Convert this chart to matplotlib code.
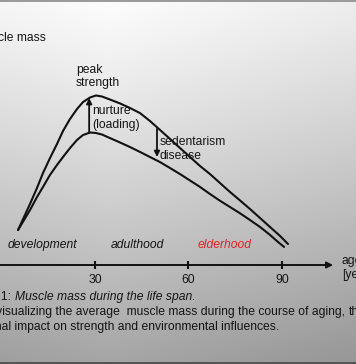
import numpy as np
import matplotlib
matplotlib.use("Agg")
import matplotlib.pyplot as plt
from matplotlib.patches import Rectangle

# ---- data ----
age_upper = [5.24, 7.17, 9.09, 11.34, 13.27, 15.52, 17.77, 19.70, 21.95, 24.20, 26.12,
             28.37, 30.30, 32.23, 34.80, 38.01, 41.23, 44.44, 47.65, 50.87, 54.08,
             57.30, 60.51, 63.72, 66.94, 70.15, 73.37, 76.58, 79.80, 83.01, 86.22,
             89.44, 92.01]
mass_upper = [20.7, 28.4, 36.1, 45.6, 54.4, 63.3, 71.6, 79.3, 86.4, 92.3, 96.4,
              99.1, 100.3, 99.7, 97.9, 95.6, 92.9, 89.9, 85.2, 79.9, 74.6,
              69.2, 63.9, 58.6, 53.8, 48.5, 43.2, 38.2, 33.1, 27.8, 22.5,
              17.2, 12.4]
age_lower = [5.24, 7.17, 9.09, 11.34, 13.27, 15.52, 17.77, 19.70, 21.95, 24.20, 26.12,
             28.37, 30.30, 32.23, 34.80, 38.01, 41.23, 44.44, 47.65, 50.87, 54.08,
             57.30, 60.51, 63.72, 66.94, 70.15, 73.37, 76.58, 79.80, 83.01, 86.22,
             88.80, 90.73]
mass_lower = [20.7, 26.6, 32.5, 40.2, 46.2, 53.3, 59.2, 63.9, 69.2, 74.0, 76.9,
              78.4, 78.1, 77.2, 75.1, 72.5, 69.8, 66.9, 63.9, 60.9, 57.4,
              53.8, 50.0, 46.2, 42.0, 38.0, 34.3, 30.6, 26.6, 22.5, 17.8,
              13.6, 10.7]
tick_ages = [30, 60, 90]
tick_labels = ["30", "60", "90"]
phases = ["development", "adulthood", "elderhood"]
phase_colors = ["#151515", "#151515", "#e8202a"]

W, H = 356, 364
fig = plt.figure(figsize=(W / 100, H / 100), dpi=100)
plt.rcParams['font.family'] = ['Liberation Sans', 'DejaVu Sans']

# background gradient
bg = fig.add_axes([0, 0, 1, 1])
yy, xx = np.mgrid[0:H, 0:W]
v = 253 - 88 * (yy / H) ** 1.1 - 22 * np.abs(xx - 110) / W
v = np.clip(v, 0, 255) / 255.0
bg.imshow(np.dstack([v, v, v]), extent=[0, W, H, 0], aspect='auto', interpolation='bilinear')
bg.set_xlim(0, W)
bg.set_ylim(H, 0)
bg.axis('off')
bg.add_patch(Rectangle((0, 0), W, 1.5, color='#9a9a9a', lw=0))
bg.add_patch(Rectangle((0, H - 2.5), W, 2.5, color='#555555', lw=0))

# main axes: px = 1.7 + 3.112*age ; py = 265 - 1.69*mass
ax = fig.add_axes([0, 0, 1, 1])
ax.patch.set_alpha(0)
ax.set_xlim((0 - 1.7) / 3.112, (W - 1.7) / 3.112)
ax.set_ylim((265 - H) / 1.69, 265 / 1.69)
ax.axis('off')

lc = '#111111'
ax.plot(age_upper, mass_upper, color=lc, lw=1.5, solid_joinstyle='round', solid_capstyle='round')
ax.plot(age_lower, mass_lower, color=lc, lw=1.5, solid_joinstyle='round', solid_capstyle='round')

# x axis with arrow
ax.annotate('', xy=(106.5, 0), xytext=(-2, 0),
            arrowprops=dict(arrowstyle='-|>', color=lc, lw=1.4, mutation_scale=9, shrinkA=0, shrinkB=0))
ax.plot(tick_ages, [0] * len(tick_ages), ls='none', marker='|', ms=6, mew=1.5, color=lc)
# y axis (mostly off the left edge)
ax.annotate('', xy=(-1.0, 123), xytext=(-1.0, 0),
            arrowprops=dict(arrowstyle='-|>', color=lc, lw=1.4, mutation_scale=9, shrinkA=0, shrinkB=0))

# arrows between the curves
ax.annotate('', xy=(28.1, 98.8), xytext=(28.1, 78.1),
            arrowprops=dict(arrowstyle='-|>', color=lc, lw=1.3, mutation_scale=8, shrinkA=0, shrinkB=0))
ax.annotate('', xy=(49.9, 63.9), xytext=(49.9, 80.5),
            arrowprops=dict(arrowstyle='-|>', color=lc, lw=1.3, mutation_scale=8, shrinkA=0, shrinkB=0))

def t(px, py, s, **kw):
    fig.text(px / W, 1 - py / H, s, **kw)

fs = 8.7
tc = '#151515'
for a, lab in zip(tick_ages, tick_labels):
    ax.text(a, -9, lab, ha='center', va='center', fontsize=fs, color=tc)

t(46, 38, "Muscle mass", ha='right', va='center', fontsize=fs, color=tc)
t(341, 261, "age", ha='left', va='center', fontsize=fs, color=tc)
t(342, 275, "[years]", ha='left', va='center', fontsize=fs, color=tc)
t(76, 70, "peak", ha='left', va='center', fontsize=fs, color=tc)
t(76, 83, "strength", ha='left', va='center', fontsize=fs, color=tc)
t(92, 111, "nurture", ha='left', va='center', fontsize=fs, color=tc)
t(92, 125, "(loading)", ha='left', va='center', fontsize=fs, color=tc)
t(160, 142, "sedentarism", ha='left', va='center', fontsize=fs, color=tc)
t(160, 156, "disease", ha='left', va='center', fontsize=fs, color=tc)

phase_x = [42, 137, 225]
for x, p, c in zip(phase_x, phases, phase_colors):
    t(x, 245, p, ha='center', va='center', fontsize=fs, color=c, style='italic')

# caption
t(11, 297, "Figure 1:", ha='right', va='center', fontsize=fs, color=tc)
t(15, 297, "Muscle mass during the life span.", ha='left', va='center', fontsize=fs, color=tc, style='italic')
t(345, 312, "Graph visualizing the average  muscle mass during the course of aging,", ha='right', va='center', fontsize=fs, color=tc)
t(349, 312, "the", ha='left', va='center', fontsize=fs, color=tc)
t(279, 327, "additional impact on strength and environmental influences.", ha='right', va='center', fontsize=fs, color=tc)

fig.savefig('out.png', dpi=100)
